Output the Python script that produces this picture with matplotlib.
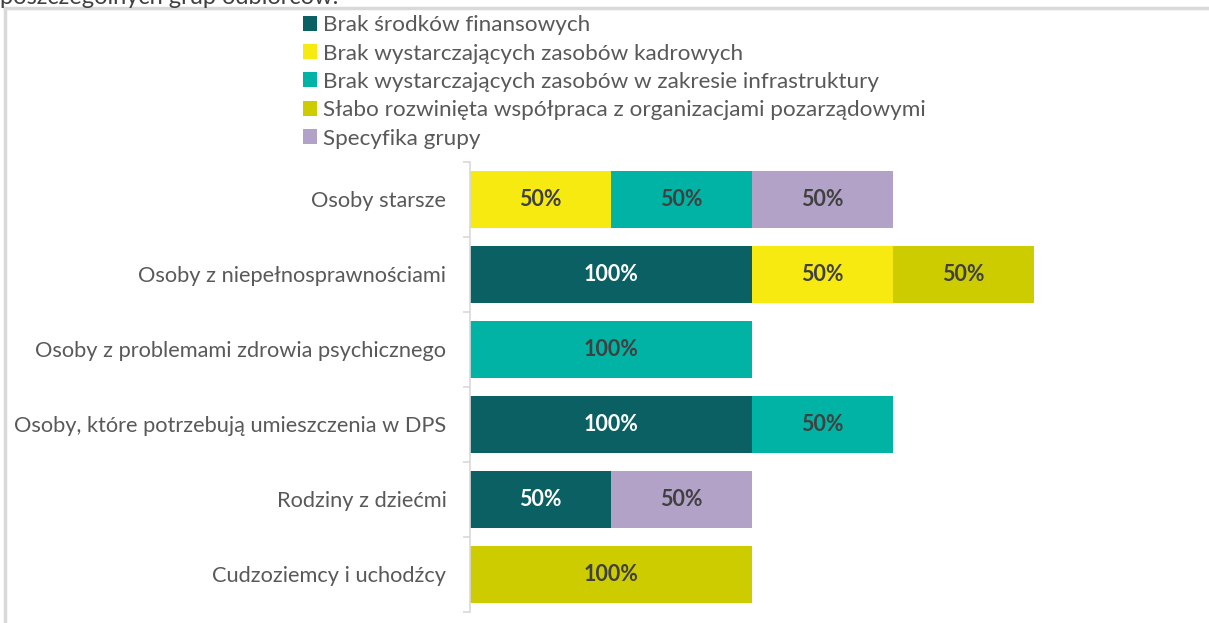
import numpy as np
import matplotlib.pyplot as plt
from matplotlib.lines import Line2D

plt.rcParams['font.family'] = ['Lato', 'DejaVu Sans']

categories = [
    'Osoby starsze',
    'Osoby z niepełnosprawnościami',
    'Osoby z problemami zdrowia psychicznego',
    'Osoby, które potrzebują umieszczenia w DPS',
    'Rodziny z dziećmi',
    'Cudzoziemcy i uchodźcy',
]
series_names = [
    'Brak środków finansowych',
    'Brak wystarczających zasobów kadrowych',
    'Brak wystarczających zasobów w zakresie infrastruktury',
    'Słabo rozwinięta współpraca z organizacjami pozarządowymi',
    'Specyfika grupy',
]
finansowe = [0, 100, 0, 100, 50, 0]
kadrowe = [50, 50, 0, 0, 0, 0]
infrastruktura = [50, 0, 100, 50, 0, 0]
wspolpraca = [0, 50, 0, 0, 0, 100]
specyfika = [50, 0, 0, 0, 50, 0]
colors = ['#0A6062', '#F7EA10', '#00B3A4', '#CDCC00', '#B3A2C8']
label_colors = ['white', '#404040', '#404040', '#404040', '#404040']

values = [finansowe, kadrowe, infrastruktura, wspolpraca, specyfika]

fig = plt.figure(figsize=(12.09, 6.23), dpi=100)
ax = fig.add_axes([0.3888, 0.0177, 0.5831, 0.7223])

y = np.arange(len(categories))
left = np.zeros(len(categories))
for name, vals, col, lc in zip(series_names, values, colors, label_colors):
    vals = np.array(vals, dtype=float)
    bars = ax.barh(y, vals, left=left, height=0.77, color=col, label=name, linewidth=0)
    for b, v in zip(bars, vals):
        if v > 0:
            ax.text(b.get_x() + b.get_width() / 2, b.get_y() + b.get_height() / 2,
                    f'{v:.0f}%', ha='center', va='center', color=lc,
                    fontsize=15.5, fontweight='bold')
    left += vals

ax.set_xlim(0, 250)
ax.set_ylim(len(categories) - 0.5, -0.5)
ax.set_yticks(y)
ax.set_yticklabels(categories, fontsize=15.7, color='#595959')
ax.set_yticks(np.arange(len(categories) + 1) - 0.5, minor=True)
ax.tick_params(axis='y', which='major', length=0, pad=17)
ax.tick_params(axis='y', which='minor', length=5, color='#D9D9D9', width=1.2)
ax.set_xticks([])
for s in ['top', 'right', 'bottom']:
    ax.spines[s].set_visible(False)
ax.spines['left'].set_color('#D9D9D9')
ax.spines['left'].set_linewidth(1.2)

fig.legend(loc='upper left', bbox_to_anchor=(0.243, 0.99), frameon=False,
           fontsize=16.2, handlelength=0.65, handleheight=0.65, handletextpad=0.25,
           labelspacing=0.37, borderaxespad=0, labelcolor='#595959')

# ramka i obcięty tytuł nad wykresem
fig.add_artist(Line2D([5 / 1209, 5 / 1209], [0, 615 / 623], color='#D9D9D9', lw=2.5))
fig.add_artist(Line2D([5 / 1209, 1], [615 / 623, 615 / 623], color='#D9D9D9', lw=2.5))
fig.text(0.0, 1.0 - 4 / 623, 'poszczególnych grup odbiorców:', fontsize=17,
         color='#404040', va='baseline', ha='left')

fig.savefig('out.png', dpi=100)
